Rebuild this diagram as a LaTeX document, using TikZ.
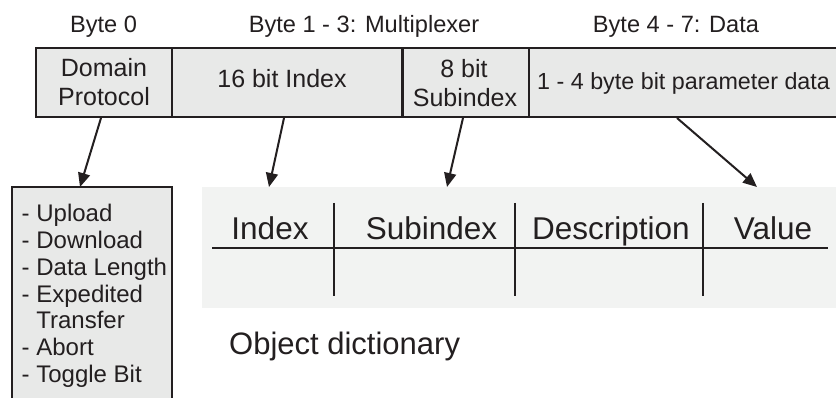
\documentclass[tikz,border=0pt]{standalone}
\usepackage{fontspec}
\setmainfont{Liberation Sans}
\usetikzlibrary{arrows.meta}
\definecolor{ink}{HTML}{231F20}
\definecolor{cellfill}{HTML}{E8E9E8}
\definecolor{tablebg}{HTML}{F2F3F2}
\tikzset{
 cell/.style={draw=ink, line width=2.4pt, fill=cellfill, inner sep=0pt},
 hdr/.style={font=\fontsize{23.6}{28}\selectfont, text=ink, anchor=base, inner sep=0pt},
 celltxt/.style={font=\fontsize{25}{29}\selectfont, text=ink, anchor=base, inner sep=0pt},
 listtxt/.style={font=\fontsize{24}{27}\selectfont, text=ink, anchor=base west, inner sep=0pt},
 ptr/.style={draw=ink, line width=2pt, -{Triangle[length=14pt,width=12pt]}},
 tline/.style={draw=ink, line width=1.8pt},
 ttxt/.style={font=\fontsize{31.5}{36}\selectfont, text=ink, anchor=base, inner sep=0pt},
}
\begin{document}
\begin{tikzpicture}[x=1pt,y=-1pt]
\useasboundingbox (0,0) rectangle (836,398);
\fill[white] (0,0) rectangle (836,398);
% headers
\node[hdr] (h0) at (103.5,33) {Byte 0};
\node[hdr] (h1) at (364,33) {Byte 1 - 3: Multiplexer};
\node[hdr] (h2) at (676,33) {Byte 4 - 7: Data};
% frame cells
\node[cell, minimum width=136pt, minimum height=69pt] (dom) at (104,82.5) {};
\node[cell, minimum width=230.5pt, minimum height=69pt] (idx) at (287.25,82.5) {};
\node[cell, minimum width=126.5pt, minimum height=69pt] (sub) at (465.75,82.5) {};
\node[cell, minimum width=311pt, minimum height=69pt] (dat) at (684.5,82.5) {};
% cell texts
\node[celltxt] (t1) at (104,77) {Domain};
\node[celltxt] (t2) at (104,106) {Protocol};
\node[celltxt] (t3) at (282,88) {16 bit Index};
\node[celltxt] (t4) at (464,78) {8 bit};
\node[celltxt] (t5) at (465,107) {Subindex};
\node[celltxt, anchor=base west, font=\fontsize{23.3}{28}\selectfont] (t6) at (537,90) {1 - 4 byte bit parameter data};
% list box
\node[cell, minimum width=160pt, minimum height=223pt] (lst) at (92,298.5) {};
\node[listtxt] (l1) at (21.5,221.7) {- Upload};
\node[listtxt] (l2) at (21.5,249) {- Download};
\node[listtxt] (l3) at (21.5,276) {- Data Length};
\node[listtxt] (l4) at (21.5,302.7) {- Expedited};
\node[listtxt] (l5) at (21.5,329) {\phantom{- }Transfer};
\node[listtxt] (l6) at (21.5,355.5) {- Abort};
\node[listtxt] (l7) at (21.5,382) {- Toggle Bit};
% object dictionary table
\node[fill=tablebg, inner sep=0pt, minimum width=638pt, minimum height=121pt] (tbl) at (521,247.5) {};
\coordinate (hl1) at (212,248);
\coordinate (hl2) at (828,248);
\draw[tline] (hl1) -- (hl2);
\coordinate (v1a) at (334,203); \coordinate (v1b) at (334,296);
\coordinate (v2a) at (515,203); \coordinate (v2b) at (515,296);
\coordinate (v3a) at (703,203); \coordinate (v3b) at (703,296);
\draw[tline] (v1a) -- (v1b);
\draw[tline] (v2a) -- (v2b);
\draw[tline] (v3a) -- (v3b);
\node[ttxt] (c1) at (270,239.5) {Index};
\node[ttxt] (c2) at (431.6,239.5) {Subindex};
\node[ttxt] (c3) at (611,239.5) {Description};
\node[ttxt] (c4) at (773,239.5) {Value};
\node[ttxt, anchor=base west, font=\fontsize{31}{36}\selectfont] (od) at (229,355) {Object dictionary};
% arrows
\coordinate (s0) at (101,118); \coordinate (e0) at (80,187);
\coordinate (s1) at (284,118); \coordinate (e1) at (269,187);
\coordinate (s2) at (463,118); \coordinate (e2) at (447,187);
\coordinate (s3) at (677,118); \coordinate (e3) at (757,187);
\draw[ptr] (s0) -- (e0);
\draw[ptr] (s1) -- (e1);
\draw[ptr] (s2) -- (e2);
\draw[ptr] (s3) -- (e3);
\end{tikzpicture}
\end{document}
